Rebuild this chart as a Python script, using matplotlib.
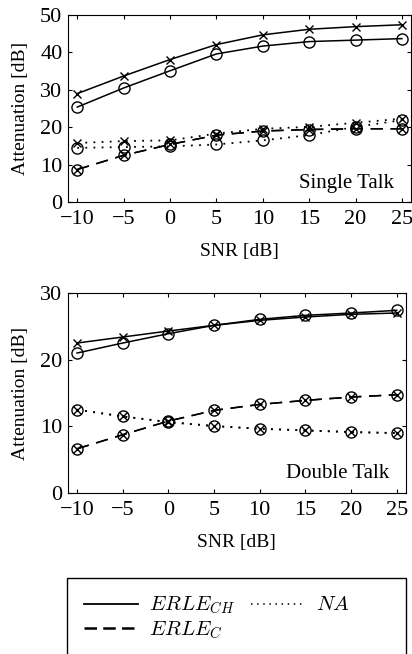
import matplotlib
matplotlib.use('Agg')
import matplotlib.pyplot as plt
import matplotlib.patches as mpatches
from matplotlib.lines import Line2D

plt.rcParams['font.family'] = 'Liberation Serif'
plt.rcParams['mathtext.fontset'] = 'cm'

snr = [-10, -5, 0, 5, 10, 15, 20, 25]

# Single talk
st_ch_x = [29.0, 33.7, 38.1, 42.1, 44.7, 46.2, 46.9, 47.4]
st_ch_o = [25.4, 30.5, 35.1, 39.6, 41.7, 42.9, 43.3, 43.7]
st_na_x = [15.8, 16.3, 16.5, 18.3, 19.6, 20.1, 21.2, 22.3]
st_na_o = [14.5, 14.7, 14.9, 15.4, 16.5, 17.9, 20.1, 21.9]
st_c_x = [8.7, 12.5, 15.4, 17.9, 19.0, 19.4, 19.6, 19.6]
st_c_o = [8.7, 12.5, 15.4, 17.9, 19.0, 19.4, 19.6, 19.6]

# Double talk
dt_ch_x = [22.5, 23.4, 24.3, 25.15, 25.9, 26.4, 26.8, 27.0]
dt_ch_o = [21.0, 22.5, 23.9, 25.15, 26.05, 26.65, 27.0, 27.4]
dt_na_x = [12.5, 11.5, 10.65, 10.05, 9.65, 9.4, 9.15, 9.0]
dt_na_o = [12.5, 11.5, 10.65, 10.05, 9.65, 9.4, 9.15, 9.0]
dt_c_x = [6.65, 8.75, 10.8, 12.4, 13.3, 13.9, 14.4, 14.75]
dt_c_o = [6.65, 8.75, 10.8, 12.4, 13.3, 13.9, 14.4, 14.75]

fig = plt.figure(figsize=(4.12, 6.54), dpi=100)
ax1 = fig.add_axes([0.165, 0.691, 0.833, 0.286])
ax2 = fig.add_axes([0.165, 0.246, 0.820, 0.306])

def panel(ax, data, ylim, yticks, label):
    styles = [('-', 1.1), ((0, (1, 3.5)), 1.3), ((0, (8, 5)), 1.1)]
    for (dx, do), (ls, lw) in zip(data, styles):
        ax.plot(snr, dx, linestyle=ls, color='black', linewidth=lw,
                marker='x', markersize=6, markeredgewidth=1.0)
        ax.plot(snr, do, linestyle=ls, color='black', linewidth=lw,
                marker='o', markersize=8, markerfacecolor='none', markeredgewidth=1.0)
    ax.set_xlim(-11, 26)
    ax.set_ylim(*ylim)
    ax.set_xticks(snr)
    ax.set_xticklabels(['\u221210', '\u22125', '0', '5', '10', '15', '20', '25'])
    ax.set_yticks(yticks)
    ax.tick_params(direction='in', top=True, right=True, labelsize=16, length=3, pad=4)
    ax.tick_params(axis='x', pad=6)
    ax.set_xlabel('SNR [dB]', fontsize=14, labelpad=10)
    ax.set_ylabel('Attenuation [dB]', fontsize=14, labelpad=8)
    ax.text(0.95, 0.10, label, transform=ax.transAxes, ha='right', va='center', fontsize=15)

panel(ax1, [(st_ch_x, st_ch_o), (st_na_x, st_na_o), (st_c_x, st_c_o)],
      (0, 50), [0, 10, 20, 30, 40, 50], 'Single Talk')
panel(ax2, [(dt_ch_x, dt_ch_o), (dt_na_x, dt_na_o), (dt_c_x, dt_c_o)],
      (0, 30), [0, 10, 20, 30], 'Double Talk')

box = mpatches.Rectangle((0.163, -0.05), 0.822, 0.166, transform=fig.transFigure,
                         fill=False, edgecolor='black', linewidth=1.0)
fig.patches.append(box)

handles = [Line2D([], [], color='black', linestyle='-', linewidth=1.3),
           Line2D([], [], color='black', linestyle=(0, (5, 2.5)), linewidth=1.8),
           Line2D([], [], color='black', linestyle=(0, (1, 3)), linewidth=1.1)]
labels = ['$ERLE_{CH}$', '$ERLE_{C}$', '$NA$']
fig.legend(handles, labels, loc='upper left', bbox_to_anchor=(0.204, 0.091),
           ncol=2, frameon=False, fontsize=15, handlelength=2.6, handletextpad=0.5,
           columnspacing=0.8, borderpad=0, borderaxespad=0, labelspacing=0.15,
           handleheight=0.6)

fig.savefig('out.png', dpi=100)
